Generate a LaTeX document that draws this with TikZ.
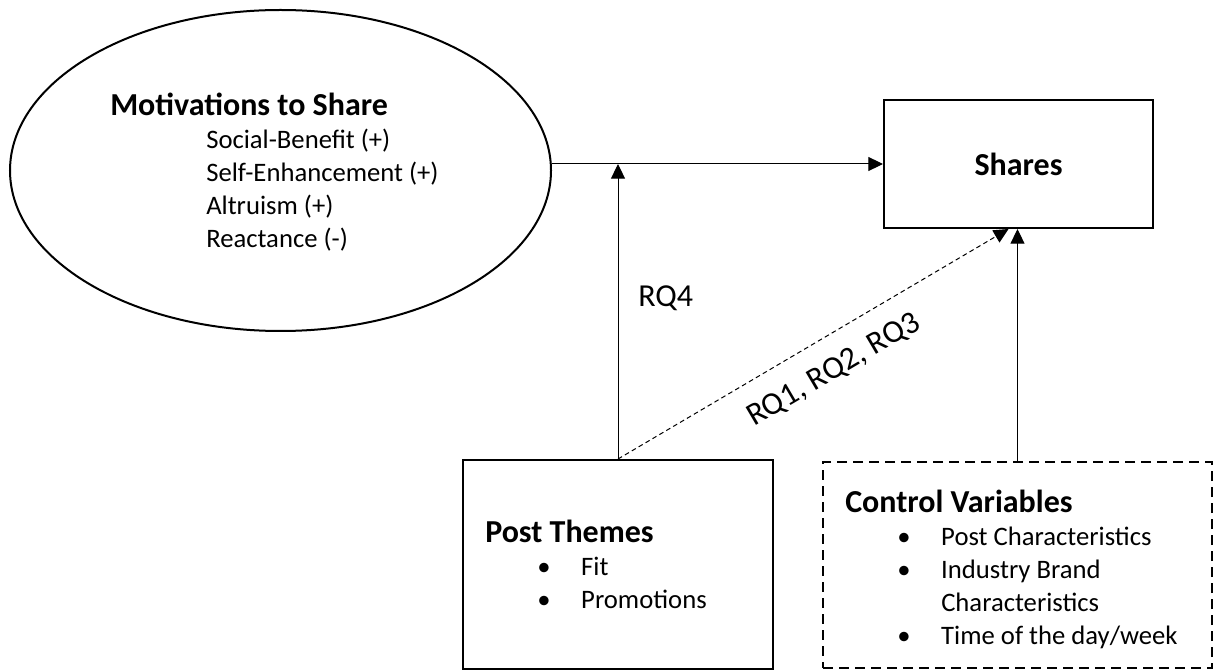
\documentclass[tikz,border=0pt]{standalone}
\usepackage{fontspec}
\setmainfont{Carlito}
\usepackage{tikz}
\usetikzlibrary{
    arrows.meta,
    shapes.geometric,
    positioning
}
\newcommand{\boxtitle}[1]{{\fontsize{24pt}{24.75pt}\selectfont\bfseries #1}}
\newcommand{\bulletitem}[1]{\makebox[33pt][l]{\textbullet}#1}
\tikzset{
    boxnode/.style={draw, rectangle, line width=1.5pt, inner sep=0pt},
    ctrlnode/.style={boxnode, dash pattern=on 7.5pt off 4.5pt},
    link/.style={-{Triangle[width=10.5pt,length=11pt]}, line width=0.75pt},
    rqlink/.style={link, dash pattern=on 3.5pt off 2.5pt},
    txt/.style={inner sep=0pt, font=\fontsize{20pt}{24.75pt}\selectfont},
    rqlabel/.style={inner sep=0pt, font=\fontsize{24pt}{28pt}\selectfont}
}

\begin{document}
\begin{tikzpicture}[x=0.75pt, y=-0.75pt]
    \useasboundingbox (0, 0) rectangle (1214, 670);

    % boxes
    \node[draw, ellipse, line width=1.5pt, inner sep=0pt, minimum width=405.75pt, minimum height=240.75pt] (motiv) at (280.5, 170.5) {};
    \node[boxnode, minimum width=201.75pt, minimum height=96pt] (shares) at (1018.5, 164) {\boxtitle{Shares}};
    \node[boxnode, minimum width=232.5pt, minimum height=156.75pt] (post) at (618, 564.5) {};
    \node[ctrlnode, minimum width=291.75pt, minimum height=154.5pt] (control) at (1017.5, 565) {};

    % box texts
    \node[txt, anchor=base west] (motivtext) at (110, 116) {\begin{tabular}[t]{@{}l@{}}
        \boxtitle{Motivations to Share}\\
        \hspace{72pt}Social-Benefit (+)\\
        \hspace{72pt}Self-Enhancement (+)\\
        \hspace{72pt}Altruism (+)\\
        \hspace{72pt}Reactance (-)
    \end{tabular}};
    \node[txt, anchor=base west] (posttext) at (485, 542) {\begin{tabular}[t]{@{}l@{}}
        \boxtitle{Post Themes}\\
        \hspace{39pt}\bulletitem{Fit}\\
        \hspace{39pt}\bulletitem{Promotions}
    \end{tabular}};
    \node[txt, anchor=base west] (controltext) at (845, 512) {\begin{tabular}[t]{@{}l@{}}
        \boxtitle{Control Variables}\\
        \hspace{39pt}\bulletitem{Post Characteristics}\\
        \hspace{39pt}\bulletitem{Industry Brand}\\
        \hspace{72pt}Characteristics\\
        \hspace{39pt}\bulletitem{Time of the day/week}
    \end{tabular}};

    % paths
    \draw[link] (motiv.east |- shares.west) -- (shares.west);
    \draw[link] (post.north) -- (post.north |- shares.west);
    \draw[rqlink] (post.north) -- ([xshift=-7.5pt]shares.south)
        node[rqlabel, sloped, pos=0.51, below=15pt] (rqone) {RQ1, RQ2, RQ3};
    \draw[link] (control.north) -- (control.north |- shares.south);

    \node[rqlabel, anchor=base west] (rqfour) at (638, 307) {RQ4};
\end{tikzpicture}
\end{document}
